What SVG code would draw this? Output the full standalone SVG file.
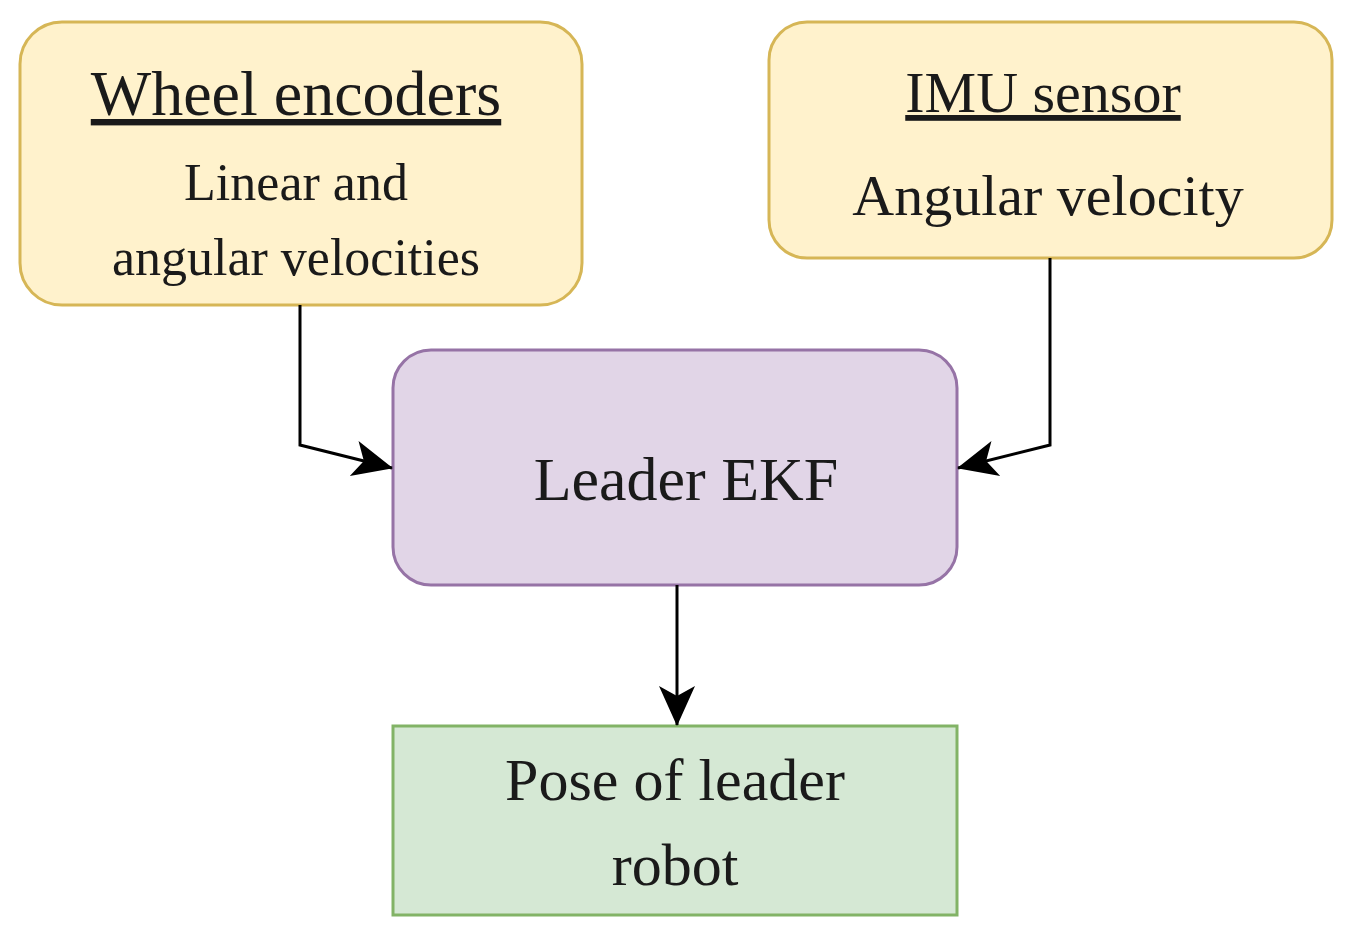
<svg xmlns="http://www.w3.org/2000/svg" width="1351" height="933" viewBox="0 0 1351 933">
<style>
text{font-family:"Liberation Serif","DejaVu Serif",serif;fill:#1a1a1a;text-anchor:middle}
.y{fill:#fff2cc;stroke:#d6b656;stroke-width:3}
.p{fill:#e1d5e7;stroke:#9673a6;stroke-width:3}
.g{fill:#d5e8d4;stroke:#82b366;stroke-width:3}
.c{fill:none;stroke:#000;stroke-width:3}
</style>
<defs><marker id="a" viewBox="0 0 20 20" refX="19" refY="10" markerWidth="20" markerHeight="20" markerUnits="userSpaceOnUse" orient="auto"><path d="M0,0 L20,10 L0,20 L5,10 Z" fill="#000"/></marker>
<marker id="b" viewBox="0 0 40 40" refX="39" refY="20" markerWidth="40" markerHeight="40" markerUnits="userSpaceOnUse" orient="auto"><path d="M0,2 L40,20 L0,38 L10,20 Z" fill="#000"/></marker></defs>
<g id="wheel"><rect class="y" x="20" y="22" width="562" height="283" rx="42"/>
<text x="296" y="115" font-size="64" text-decoration="underline">Wheel encoders</text>
<text x="296" y="200" font-size="52">Linear and</text>
<text x="296" y="275" font-size="52">angular velocities</text></g>
<g id="imu"><rect class="y" x="769" y="22" width="563" height="236" rx="38"/>
<text x="1043" y="112" font-size="58" text-decoration="underline">IMU sensor</text>
<text x="1048" y="215" font-size="58">Angular velocity</text></g>
<g id="ekf"><rect class="p" x="393" y="350" width="564" height="235" rx="38"/>
<text x="686" y="500" font-size="62">Leader EKF</text></g>
<g id="pose"><rect class="g" x="393" y="726" width="564" height="189"/>
<text x="675" y="800" font-size="60">Pose of leader</text>
<text x="675" y="885" font-size="60">robot</text></g>
<g id="connectors">
<path class="c" d="M300,305 V445 L392,468" marker-end="url(#b)"/>
<path class="c" d="M1050,258 V445 L958,468" marker-end="url(#b)"/>
<path class="c" d="M677,585 V725" marker-end="url(#b)"/>
</g>
</svg>
